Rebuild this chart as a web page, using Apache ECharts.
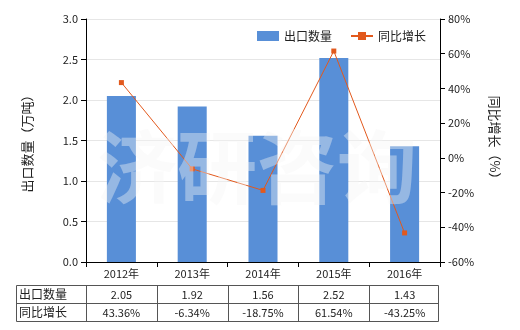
<!DOCTYPE html>
<html><head><meta charset="utf-8">
<script src="https://cdn.jsdelivr.net/npm/echarts@6/dist/echarts.min.js"></script>
<style>html,body{margin:0;padding:0;background:#fff}#c{width:520px;height:330px}</style>
</head><body><div id="c"></div>
<script>
var categories = ['2012年','2013年','2014年','2015年','2016年'];
var exportQty = [2.05, 1.92, 1.56, 2.52, 1.43];
var yoyGrowth = [43.36, -6.34, -18.75, 61.54, -43.25];
var qtyLabels = ['2.05','1.92','1.56','2.52','1.43'];
var growthLabels = ['43.36%','-6.34%','-18.75%','61.54%','-43.25%'];
var seriesNames = ['出口数量','同比增长'];

var chart = echarts.init(document.getElementById('c'));
var font = 'Noto Sans CJK SC';
var gridL = 86, gridR = 440, gridT = 19, gridB = 262;
var colW = (gridR - gridL) / categories.length;
var tableTop = 285, rowH = 18, tableLeft = 16;

var graphics = [];
// watermark
graphics.push({type:'text', z: 10, style:{text:'济研咨询', x:257, y:167, textAlign:'center', textVerticalAlign:'middle', font:'bold 80px "Noto Sans CJK SC"', fill:'rgba(246,246,246,0.4)'}});
// table border
var lineStyle = {stroke:'#555', lineWidth:1};
graphics.push({type:'rect', shape:{x:tableLeft+0.5, y:tableTop+0.5, width:gridR-2-tableLeft, height:rowH*2}, style:{fill:'none', stroke:'#555', lineWidth:1}});
graphics.push({type:'line', shape:{x1:tableLeft, y1:tableTop+rowH+0.5, x2:gridR-2, y2:tableTop+rowH+0.5}, style:lineStyle});
for (var i=0;i<categories.length;i++){
  var x = Math.round(gridL + colW*i) + 0.5;
  graphics.push({type:'line', shape:{x1:x, y1:tableTop, x2:x, y2:tableTop+rowH*2}, style:lineStyle});
  graphics.push({type:'text', style:{text:qtyLabels[i], x: gridL+colW*(i+0.5), y: tableTop+rowH/2+1, textAlign:'center', textVerticalAlign:'middle', font:'11px "Noto Sans CJK SC"', fill:'#222'}});
  graphics.push({type:'text', style:{text:growthLabels[i], x: gridL+colW*(i+0.5), y: tableTop+rowH*1.5+1, textAlign:'center', textVerticalAlign:'middle', font:'11px "Noto Sans CJK SC"', fill:'#222'}});
}
graphics.push({type:'text', style:{text:seriesNames[0], x: tableLeft+3, y: tableTop+rowH/2, textVerticalAlign:'middle', font:'12px "Noto Sans CJK SC"', fill:'#222'}});
graphics.push({type:'text', style:{text:seriesNames[1], x: tableLeft+3, y: tableTop+rowH*1.5, textVerticalAlign:'middle', font:'12px "Noto Sans CJK SC"', fill:'#222'}});

chart.setOption({
  animation:false,
  textStyle:{fontFamily:font},
  grid:{left:gridL, right:520-gridR, top:gridT, bottom:330-gridB},
  legend:{
    top:25, left:252, itemGap:18, itemWidth:22, itemHeight:10,
    textStyle:{fontSize:12, color:'#222', fontFamily:font},
    data:[{name:seriesNames[0], icon:'rect'}, {name:seriesNames[1]}]
  },
  xAxis:{
    type:'category', data:categories,
    axisLine:{lineStyle:{color:'#000'}}, axisTick:{show:true, alignWithLabel:false, lineStyle:{color:'#000'}},
    axisLabel:{color:'#222', fontSize:11, margin:6}
  },
  yAxis:[{
    type:'value', min:0, max:3, interval:0.5, name:'出口数量（万吨）', nameLocation:'middle', nameGap:52,
    nameRotate:90, nameTextStyle:{fontSize:13, color:'#222'},
    axisLine:{show:true, lineStyle:{color:'#000'}}, axisTick:{show:true, lineStyle:{color:'#000'}},
    axisLabel:{color:'#222', fontSize:11, formatter:function(v){return v.toFixed(1);}},
    splitLine:{lineStyle:{color:'#e6e6e6'}}
  },{
    type:'value', min:-60, max:80, interval:20, name:'同比增长（%）', nameLocation:'middle', nameGap:48,
    nameRotate:-90, nameTextStyle:{fontSize:13, color:'#222'},
    axisLine:{show:true, lineStyle:{color:'#000'}}, axisTick:{show:true, lineStyle:{color:'#000'}},
    axisLabel:{color:'#222', fontSize:11, formatter:'{value}%'},
    splitLine:{show:false}
  }],
  series:[{
    name:seriesNames[0], type:'bar', data:exportQty, barWidth:'41%',
    itemStyle:{color:'#588fd7'}, z:2
  },{
    name:seriesNames[1], type:'line', yAxisIndex:1, data:yoyGrowth,
    symbol:'rect', symbolSize:5, lineStyle:{color:'#e2591d', width:1}, itemStyle:{color:'#e2591d'}, z:3
  }],
  graphic:graphics
});
</script></body></html>
